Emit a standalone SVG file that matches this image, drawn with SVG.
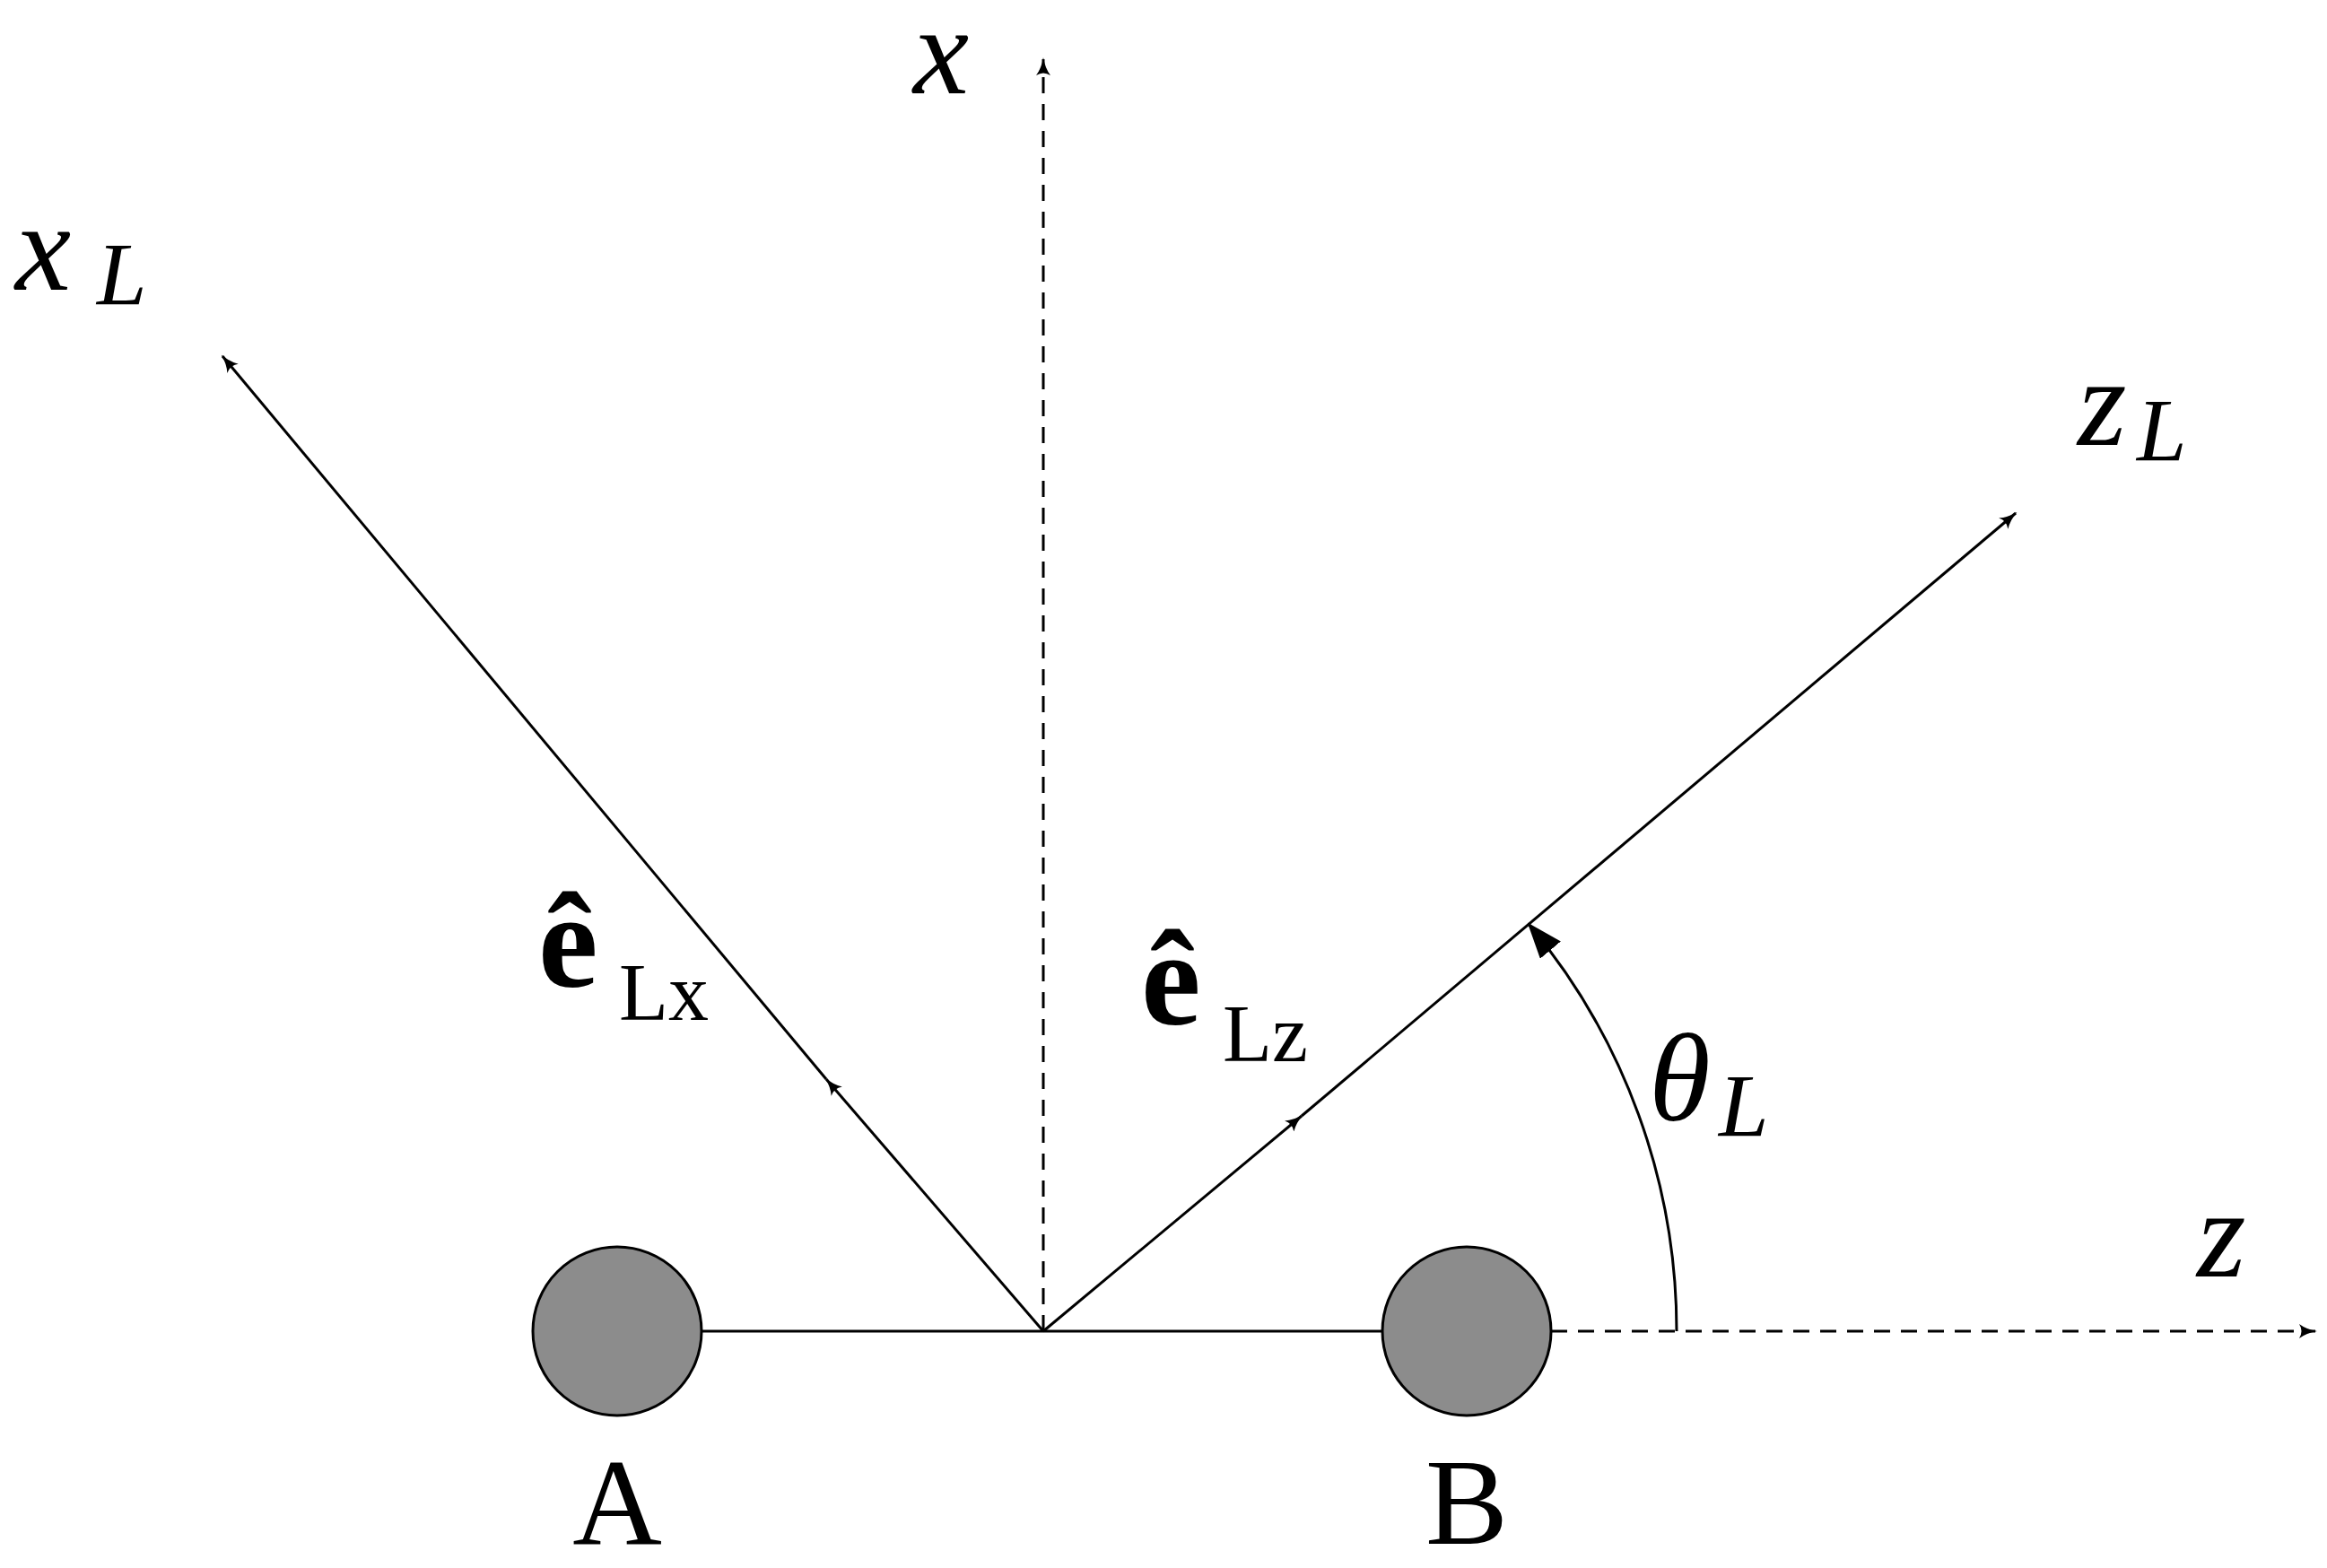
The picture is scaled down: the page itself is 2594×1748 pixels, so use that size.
<svg xmlns="http://www.w3.org/2000/svg" width="2594" height="1748" viewBox="0 0 2594 1748">
<style>
.ln{stroke:#000;stroke-width:3;fill:none}
.ds{stroke-dasharray:18 12}
.m{font-family:"Liberation Serif",serif;font-style:italic;fill:#000}
.r{font-family:"Liberation Serif",serif;fill:#000}
.atom{fill:#8c8c8c;stroke:#000;stroke-width:3}
</style>
<defs>
<marker id="a" viewBox="0 0 20 16" refX="18" refY="8" markerWidth="20" markerHeight="16" markerUnits="userSpaceOnUse" orient="auto">
<path d="M0,0 Q8,6 20,8 Q8,10 0,16 Q5,8 0,0Z" fill="#000"/>
</marker>
<marker id="b" viewBox="0 0 40 30" refX="38" refY="15" markerWidth="40" markerHeight="30" markerUnits="userSpaceOnUse" orient="auto">
<path d="M0,0 L40,15 L0,30Z" fill="#000"/>
</marker>
</defs>
<g id="connectors">
<line class="ln ds" x1="1163" y1="1484" x2="1163" y2="66" marker-end="url(#a)"/>
<line class="ln ds" x1="1729" y1="1484" x2="2581" y2="1484" marker-end="url(#a)"/>
<line class="ln" x1="782" y1="1484" x2="1541" y2="1484"/>
<line class="ln" x1="1163" y1="1484" x2="921" y2="1203" marker-end="url(#a)"/>
<line class="ln" x1="921" y1="1203" x2="248" y2="397" marker-end="url(#a)"/>
<line class="ln" x1="1163" y1="1484" x2="1451" y2="1244" marker-end="url(#a)"/>
<line class="ln" x1="1451" y1="1244" x2="2247" y2="572" marker-end="url(#a)"/>
<path class="ln" d="M1869,1484 A706,706 0 0 0 1704,1030" marker-end="url(#b)"/>
</g>
<g id="atomA"><circle class="atom" cx="688" cy="1484" r="94"/><text class="r" x="688" y="1721" font-size="138" text-anchor="middle">A</text></g>
<g id="atomB"><circle class="atom" cx="1635" cy="1484" r="94"/><text class="r" x="1635" y="1721" font-size="138" text-anchor="middle">B</text></g>
<g id="labels">
<text class="m" x="1018" y="104" font-size="140">x</text>
<text class="m" x="17" y="323" font-size="140">x</text><text class="m" x="108" y="339" font-size="100">L</text>
<text class="m" x="2316" y="496" font-size="140">z</text><text class="m" x="2382" y="513" font-size="100">L</text>
<text class="m" x="2449" y="1423" font-size="140">z</text>
<text class="m" x="1838" y="1249" font-size="140">θ</text><text class="m" x="1916" y="1266" font-size="100">L</text>
<text class="r" x="600" y="1100" font-size="150" font-weight="bold">ê</text><text class="r" x="690" y="1137" font-size="90">Lx</text>
<text class="r" x="1272" y="1142" font-size="150" font-weight="bold">ê</text><text class="r" x="1363" y="1183" font-size="90">Lz</text>
</g>
</svg>
